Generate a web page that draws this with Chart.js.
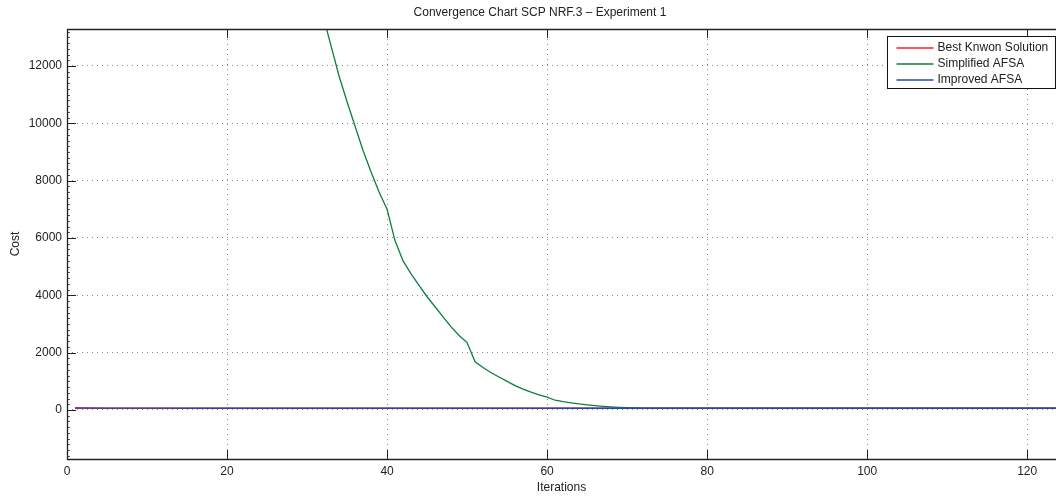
<!DOCTYPE html>
<html>
<head>
<meta charset="utf-8">
<title>Convergence Chart SCP NRF.3</title>
<script src="https://cdn.jsdelivr.net/npm/chart.js@4.4.1/dist/chart.umd.min.js"></script>
<style>
    html, body { margin: 0; padding: 0; background: #fff; }
    #wrap { width: 1056px; height: 499px; }
</style>
</head>
<body>
<div id="wrap"><canvas id="convChart" width="1056" height="499"></canvas></div>
<script>
// Values
const chartTitle = 'Convergence Chart SCP NRF.3 \u2013 Experiment 1';
const seriesNames = ['Best Knwon Solution', 'Simplified AFSA', 'Improved AFSA'];
const seriesColors = ['#ff1f1f', '#0a8040', '#2846b4'];

// best known solution (flat line)
const bestIter = [1, 125];
const bestCost = [61, 61];

// simplified AFSA (iterations before 32 are above the visible range)
const simpleIter = [1, 10, 20, 25, 28, 30, 31, 32, 33, 34, 35, 36, 37, 38, 39, 40,
    41, 42, 43, 44, 45, 46, 47, 48, 49, 50, 51, 52, 53, 54, 55, 56, 57, 58, 59, 60,
    61, 62, 63, 64, 65, 66, 67, 68, 69, 70, 71, 72, 73, 74, 75, 80, 125];
const simpleCost = [95000, 52000, 29000, 23800, 18800, 16100, 14900, 13750, 12700, 11650, 10750, 9900, 9050, 8300, 7600, 7000,
    5900, 5200, 4750, 4350, 3950, 3600, 3250, 2900, 2600, 2350, 1680, 1480, 1300, 1150, 1000, 850, 730, 620, 530, 450,
    340, 290, 250, 210, 180, 150, 125, 105, 90, 80, 72, 68, 65, 63, 62, 61, 61];

// improved AFSA
const improvedIter = [1, 2, 5, 10, 20, 125];
const improvedCost = [75, 70, 66, 63, 61, 61];

const xTicks = [0, 20, 40, 60, 80, 100, 120];
const yTicks = [0, 2000, 4000, 6000, 8000, 10000, 12000];
const yMinorStep = 200;
const xRange = [0, 123.6];
const yRange = [-1710, 13290];

const font = { family: '"Liberation Sans", Arial, Helvetica, sans-serif', size: 12 };
const textColor = '#222';

function toPoints(xs, ys) {
    return xs.map((x, i) => ({ x: x, y: ys[i] }));
}

// box, inward tick marks, title and legend like the original figure
const matlabFrame = {
    id: 'matlabFrame',
    afterDraw(chart) {
        const ctx = chart.ctx;
        const a = chart.chartArea;
        const xs = chart.scales.x;
        const ys = chart.scales.y;
        ctx.save();

        // minor ticks on y
        ctx.strokeStyle = '#555';
        ctx.lineWidth = 1;
        ctx.beginPath();
        for (let v = Math.ceil(yRange[0] / yMinorStep) * yMinorStep; v <= yRange[1]; v += yMinorStep) {
            if (yTicks.includes(v)) continue;
            const py = Math.round(ys.getPixelForValue(v)) + 0.5;
            ctx.moveTo(a.left, py);
            ctx.lineTo(a.left + 3, py);
        }
        ctx.stroke();

        // major ticks
        ctx.strokeStyle = '#222';
        ctx.beginPath();
        xTicks.forEach(v => {
            const px = Math.round(xs.getPixelForValue(v)) + 0.5;
            ctx.moveTo(px, a.bottom);
            ctx.lineTo(px, a.bottom - 9);
            ctx.moveTo(px, a.top);
            ctx.lineTo(px, a.top + 9);
        });
        yTicks.forEach(v => {
            const py = Math.round(ys.getPixelForValue(v)) + 0.5;
            ctx.moveTo(a.left, py);
            ctx.lineTo(a.left + 9, py);
        });
        ctx.stroke();

        // axes box (right side falls outside the picture)
        ctx.lineWidth = 1.3;
        ctx.beginPath();
        ctx.moveTo(a.right + 2, a.top + 0.5);
        ctx.lineTo(a.left + 0.5, a.top + 0.5);
        ctx.lineTo(a.left + 0.5, a.bottom + 0.5);
        ctx.lineTo(a.right + 2, a.bottom + 0.5);
        ctx.stroke();

        // title
        ctx.fillStyle = textColor;
        ctx.font = font.size + 'px ' + font.family;
        ctx.textAlign = 'center';
        ctx.textBaseline = 'middle';
        ctx.fillText(chartTitle, 540, 13);

        // legend
        const lx = 887.5, ly = 36.5, lw = 168, lh = 52;
        ctx.fillStyle = '#fff';
        ctx.fillRect(lx, ly, lw, lh);
        ctx.lineWidth = 1;
        ctx.strokeStyle = '#111';
        ctx.strokeRect(lx, ly, lw, lh);
        seriesNames.forEach((name, i) => {
            const ry = Math.round(ly + 11 + i * 16);
            ctx.strokeStyle = seriesColors[i];
            ctx.lineWidth = 1.3;
            ctx.beginPath();
            ctx.moveTo(lx + 9, ry);
            ctx.lineTo(lx + 46, ry);
            ctx.stroke();
            ctx.fillStyle = textColor;
            ctx.textAlign = 'left';
            ctx.fillText(name, lx + 50, ry);
        });
        ctx.restore();
    }
};

const ctx = document.getElementById('convChart').getContext('2d');
const convChart = new Chart(ctx, {
    type: 'line',
    data: {
        datasets: [
            { label: seriesNames[0], data: toPoints(bestIter, bestCost), borderColor: seriesColors[0], order: 2 },
            { label: seriesNames[1], data: toPoints(simpleIter, simpleCost), borderColor: seriesColors[1], order: 1 },
            { label: seriesNames[2], data: toPoints(improvedIter, improvedCost), borderColor: seriesColors[2], order: 0 }
        ]
    },
    options: {
        responsive: false,
        animation: false,
        layout: { padding: { top: 29, left: 0, right: 0, bottom: 0 } },
        elements: {
            line: { borderWidth: 1.3, tension: 0, fill: false },
            point: { radius: 0 }
        },
        plugins: {
            legend: { display: false },
            title: { display: false },
            tooltip: { enabled: false }
        },
        scales: {
            x: {
                type: 'linear',
                min: xRange[0],
                max: xRange[1],
                afterFit: s => { s.height = 40; },
                afterBuildTicks: s => { s.ticks = xTicks.map(v => ({ value: v })); },
                ticks: { font: font, color: textColor, padding: 5, maxRotation: 0, callback: v => String(v) },
                grid: { color: '#8a8a8a', drawTicks: false, lineWidth: 1 },
                border: { display: false, dash: [1, 4] },
                title: { display: true, text: 'Iterations', font: font, color: textColor, padding: { top: 0, bottom: 4 } }
            },
            y: {
                type: 'linear',
                min: yRange[0],
                max: yRange[1],
                afterFit: s => { s.width = 67; },
                afterBuildTicks: s => { s.ticks = yTicks.map(v => ({ value: v })); },
                ticks: { font: font, color: textColor, padding: 5, callback: v => String(v) },
                grid: { color: '#8a8a8a', drawTicks: false, lineWidth: 1 },
                border: { display: false, dash: [1, 4] },
                title: { display: true, text: 'Cost', font: font, color: textColor, padding: { top: 8, bottom: 0 } }
            }
        }
    },
    plugins: [matlabFrame]
});
</script>
</body>
</html>
